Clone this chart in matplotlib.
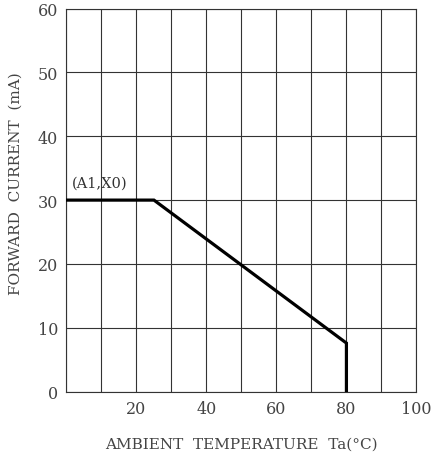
import matplotlib
matplotlib.use('Agg')
import matplotlib.pyplot as plt

# derating curve
temp = [0, 25, 80, 80]
current = [30, 30, 7.6, 0]

x_ticks = [20, 40, 60, 80, 100]
y_ticks = [0, 10, 20, 30, 40, 50, 60]
x_grid = list(range(0, 101, 10))

plt.rcParams['font.family'] = ['DejaVu Serif', 'DejaVu Sans']

fig = plt.figure(figsize=(4.43, 4.56), dpi=100)
ax = fig.add_axes([0.150, 0.139, 0.790, 0.840])

for xv in x_grid:
    ax.axvline(xv, color='#333333', lw=0.8, zorder=1)
for yv in y_ticks:
    ax.axhline(yv, color='#333333', lw=0.8, zorder=1)

ax.plot(temp, current, color='black', lw=2.3, solid_joinstyle='miter', zorder=3)
ax.text(1.5, 32.7, '(A1,X0)', fontsize=10.5, color='#333333', va='center', ha='left')

ax.set_xlim(0, 100)
ax.set_ylim(0, 60)
ax.set_xticks(x_ticks)
ax.set_yticks(y_ticks)
ax.tick_params(length=0, labelsize=11.5, colors='#444444', pad=6)
for s in ax.spines.values():
    s.set_color('#333333')
    s.set_linewidth(0.8)

ax.set_xlabel('AMBIENT  TEMPERATURE  Ta(°C)', fontsize=11, color='#444444', labelpad=14)
ax.set_ylabel('FORWARD  CURRENT  (mA)', fontsize=11, color='#444444', labelpad=12)
ax.yaxis.set_label_coords(-0.125, 0.545)

fig.savefig('out.png', dpi=100)
